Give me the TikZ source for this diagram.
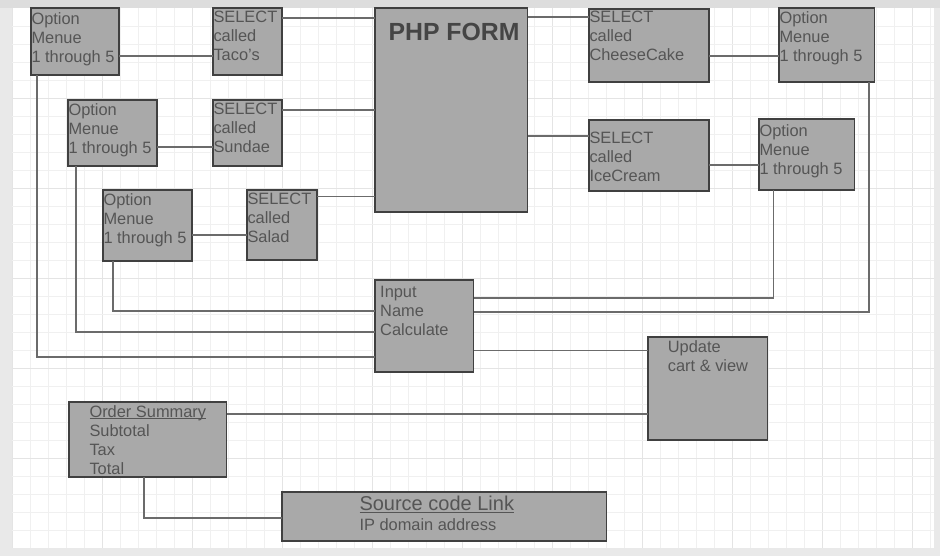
\documentclass[tikz,border=0pt]{standalone}
\usepackage{fontspec}
\setmainfont{Liberation Sans}
\newcommand{\myul}[1]{\setbox0=\hbox{#1}\rlap{\rule[-2.3pt]{\wd0}{1.1pt}}\box0}
\definecolor{boxfill}{HTML}{A9A9A9}
\definecolor{boxline}{HTML}{404040}
\definecolor{linec}{HTML}{6B6B6B}
\definecolor{txt}{HTML}{555555}
\definecolor{txtdark}{HTML}{454545}
\definecolor{gridminor}{HTML}{F0F0F0}
\definecolor{gridmajor}{HTML}{E4E4E4}
\definecolor{outerbg}{HTML}{E9E9E9}
\definecolor{topbg}{HTML}{DDDDDD}
\tikzset{
  box/.style={draw=boxline, fill=boxfill, line width=1.2pt, inner sep=0pt, outer sep=0pt, anchor=north west},
  lbl/.style={text=txt, inner sep=0pt, anchor=north west, align=left, font=\fontsize{16.4}{19}\selectfont},
  conn/.style={draw=linec, line width=2pt},
  thinconn/.style={draw=linec, line width=1pt},
}
\begin{document}
\begin{tikzpicture}[x=1pt,y=-1pt]
\useasboundingbox (0,0) rectangle (940,556);
% background
\fill[outerbg] (0,0) rectangle (940,556);
\fill[topbg] (0,0) rectangle (940,8);
\fill[white] (11.7,8) rectangle (934,547.7);
\foreach \i in {0,...,51} {
  \pgfmathtruncatemacro{\m}{mod(\i,5)}
  \ifnum\m=0 \draw[gridmajor,line width=0.9pt] ({12.5+18*\i},8) -- ({12.5+18*\i},547.7);
  \else \draw[gridminor,line width=0.9pt] ({12.5+18*\i},8) -- ({12.5+18*\i},547.7); \fi
}
\foreach \j in {1,...,29} {
  \pgfmathtruncatemacro{\m}{mod(\j,5)}
  \ifnum\m=0 \draw[gridmajor,line width=0.9pt] (11.7,{8.5+18*\j}) -- (934,{8.5+18*\j});
  \else \draw[gridminor,line width=0.9pt] (11.7,{8.5+18*\j}) -- (934,{8.5+18*\j}); \fi
}
% boxes
\node[box, minimum width=88pt, minimum height=67pt] (opt1) at (31,8) {};
\node[box, minimum width=69pt, minimum height=67pt] (taco) at (213,8) {};
\node[box, minimum width=89pt, minimum height=66pt] (opt2) at (68,100) {};
\node[box, minimum width=69pt, minimum height=66pt] (sundae) at (213,100) {};
\node[box, minimum width=89pt, minimum height=71pt] (opt3) at (103,190) {};
\node[box, minimum width=70pt, minimum height=70pt] (salad) at (247,190) {};
\node[box, minimum width=152.5pt, minimum height=204pt] (php) at (375,8) {};
\node[box, minimum width=120pt, minimum height=73pt] (cheese) at (589,9) {};
\node[box, minimum width=120pt, minimum height=71pt] (ice) at (589,120) {};
\node[box, minimum width=95.5pt, minimum height=74pt] (optTR) at (779,8) {};
\node[box, minimum width=95.5pt, minimum height=71pt] (optMR) at (759,119) {};
\node[box, minimum width=98.5pt, minimum height=92pt] (input) at (375,280) {};
\node[box, minimum width=119.5pt, minimum height=103pt] (update) at (648,337) {};
\node[box, minimum width=157.5pt, minimum height=75pt] (order) at (69,402) {};
\node[box, minimum width=324.5pt, minimum height=49pt] (source) at (282,492) {};
% connectors
\draw[conn] (opt1.east |- 0,56) -- (taco.west |- 0,56);
\draw[conn] (opt2.east |- 0,146.7) -- (sundae.west |- 0,146.7);
\draw[conn] (opt3.east |- 0,234.7) -- (salad.west |- 0,234.7);
\draw[conn] (taco.east |- 0,17.7) -- (php.west |- 0,17.7);
\draw[conn] (sundae.east |- 0,109.7) -- (php.west |- 0,109.7);
\draw[thinconn] (salad.east |- 0,197) -- (php.west |- 0,197);
\draw[conn] (php.east |- 0,16.7) -- (cheese.west |- 0,16.7);
\draw[conn] (php.east |- 0,135.7) -- (ice.west |- 0,135.7);
\draw[conn] (cheese.east |- 0,55.7) -- (optTR.west |- 0,55.7);
\draw[conn] (ice.east |- 0,164.7) -- (optMR.west |- 0,164.7);
\draw[conn] (optTR.south -| 868.7,0) |- (input.east |- 0,311.7);
\draw[draw=linec, line width=1.5pt] (optMR.south -| 773.3,0) |- (input.east |- 0,298);
\draw[thinconn] (input.east |- 0,350.3) -- (update.west |- 0,350.3);
\draw[conn] (opt3.south -| 113.3,0) |- (input.west |- 0,310.7);
\draw[conn] (opt2.south -| 76,0) |- (input.west |- 0,332.3);
\draw[conn] (opt1.south -| 36.7,0) |- (input.west |- 0,357);
\draw[conn] (order.east |- 0,413.7) -- (update.west |- 0,413.7);
\draw[conn] (order.south -| 144.3,0) |- (source.west |- 0,517.7);
% texts
\node[lbl] (opt1t) at (31.3,12) {Option\\Menue\\1 through 5};
\node[lbl] (tacot) at (213.3,11) {SELECT\\called\\Taco's};
\node[lbl] (opt2t) at (68.3,103.7) {Option\\Menue\\1 through 5};
\node[lbl] (sundaet) at (213.3,103) {SELECT\\called\\Sundae};
\node[lbl] (opt3t) at (103.3,193.7) {Option\\Menue\\1 through 5};
\node[lbl] (saladt) at (247.3,193.3) {SELECT\\called\\Salad};
\node[inner sep=0pt, anchor=north, text=txtdark, font=\fontsize{24.8}{28}\selectfont\bfseries] (phpt) at (454,23.3) {PHP FORM};
\node[lbl] (cheeset) at (589.3,11.3) {SELECT\\called\\CheeseCake};
\node[lbl] (icet) at (589.3,132.3) {SELECT\\called\\IceCream};
\node[lbl] (optTRt) at (779.3,11.7) {Option\\Menue\\1 through 5};
\node[lbl] (optMRt) at (759.3,124) {Option\\Menue\\1 through 5};
\node[lbl] (inputt) at (380,286) {Input\\Name\\Calculate};
\node[lbl] (updatet) at (667.7,340.7) {Update\\cart \& view};
\node[lbl] (ordert) at (89.3,405) {\myul{Order Summary}\\Subtotal\\Tax\\Total};
\node[lbl, font=\fontsize{20}{23}\selectfont] (sourcet) at (359.3,496) {\myul{Source code Link}};
\node[lbl] (ipt) at (359.3,518.3) {IP domain address};
\end{tikzpicture}
\end{document}
